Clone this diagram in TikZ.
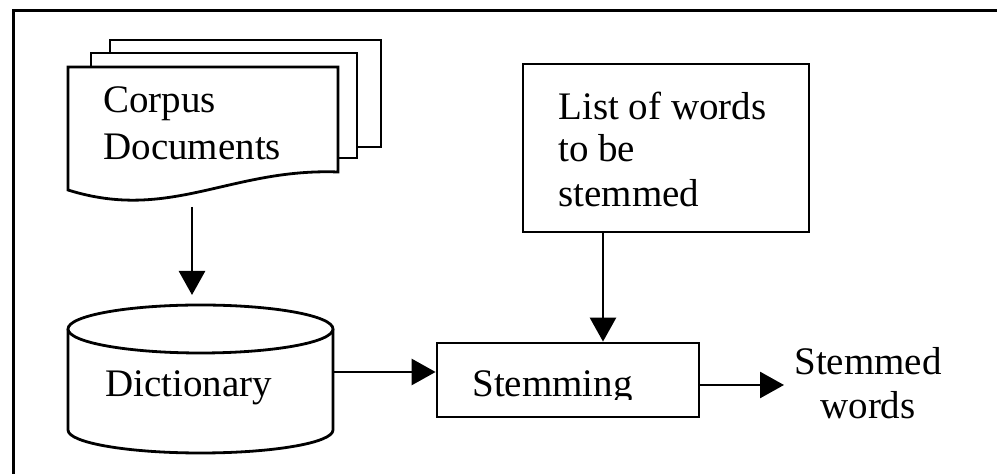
\documentclass[tikz,border=0pt]{standalone}
\usepackage{fontspec}
\setmainfont{Liberation Serif}
\usetikzlibrary{arrows.meta,fit}

\tikzset{
  shape line/.style={draw=black, line width=1.4pt, fill=white},
  box/.style={draw=black, line width=1.4pt, fill=white, inner sep=0pt},
  arr/.style={draw=black, line width=1.4pt, -{Triangle[length=12pt,width=13pt]}},
  label text/.style={inner sep=0pt, anchor=base west, font=\fontsize{19.5}{23}\selectfont},
  centered text/.style={inner sep=0pt, anchor=base, font=\fontsize{19.5}{23}\selectfont},
}

\begin{document}
\begin{tikzpicture}[x=0.5pt, y=-0.5pt]
  \useasboundingbox (0,0) rectangle (997,474);

  % outer frame: only the top and left edges lie inside the page
  \draw[line width=1.5pt] (13,474) -- (13,11) -- (997,11);

  % stack of corpus documents
  \draw[shape line] (110,40) rectangle (381,147);
  \draw[shape line] (91,53) rectangle (357,158);
  \draw[shape line] (68,67) -- (338,67) -- (338,172)
        .. controls (230,168) and (170,222) .. (68,190) -- cycle;
  \node[label text] (corpus1) at (103,113) {Corpus};
  \node[label text] (corpus2) at (103,160) {Documents};

  % dictionary cylinder
  \draw[shape line] (68,329) -- (68,430)
        arc[start angle=180, end angle=0, x radius=132.5, y radius=23]
        -- (333,329);
  \draw[shape line] (200.5,329) ellipse [x radius=132.5, y radius=24];
  \node[label text] (dict) at (105,397) {Dictionary};

  % list of words
  \node[box, fit={(523,64) (809,232)}] (list) {};
  \node[label text] (list1) at (558,120) {List of words};
  \node[label text] (list2) at (558,162) {to be};
  \node[label text] (list3) at (558,207) {stemmed};

  % stemming step
  \node[box, fit={(437,343) (699,417)}] (stem) {};
  \begin{scope}
    \clip (437,343) rectangle (699,400);
    \node[label text] (stemtxt) at (472,397) {Stemming};
  \end{scope}

  % result
  \node[centered text] (out1) at (868,375) {Stemmed};
  \node[centered text] (out2) at (868,419) {words};

  % connector end points
  \coordinate (docOut)  at (192,207);
  \coordinate (dictIn)  at (192,295);
  \coordinate (dictOut) at (333,372);
  \coordinate (listOut) at (603,232);
  \coordinate (stemOut) at (699,385);
  \coordinate (outIn)   at (784,385);

  % connectors
  \draw[arr] (docOut) -- (dictIn);
  \draw[arr] (dictOut) -- (dictOut -| stem.west);
  \draw[arr] (listOut) -- (listOut |- stem.north);
  \draw[arr] (stemOut) -- (outIn);
\end{tikzpicture}
\end{document}
